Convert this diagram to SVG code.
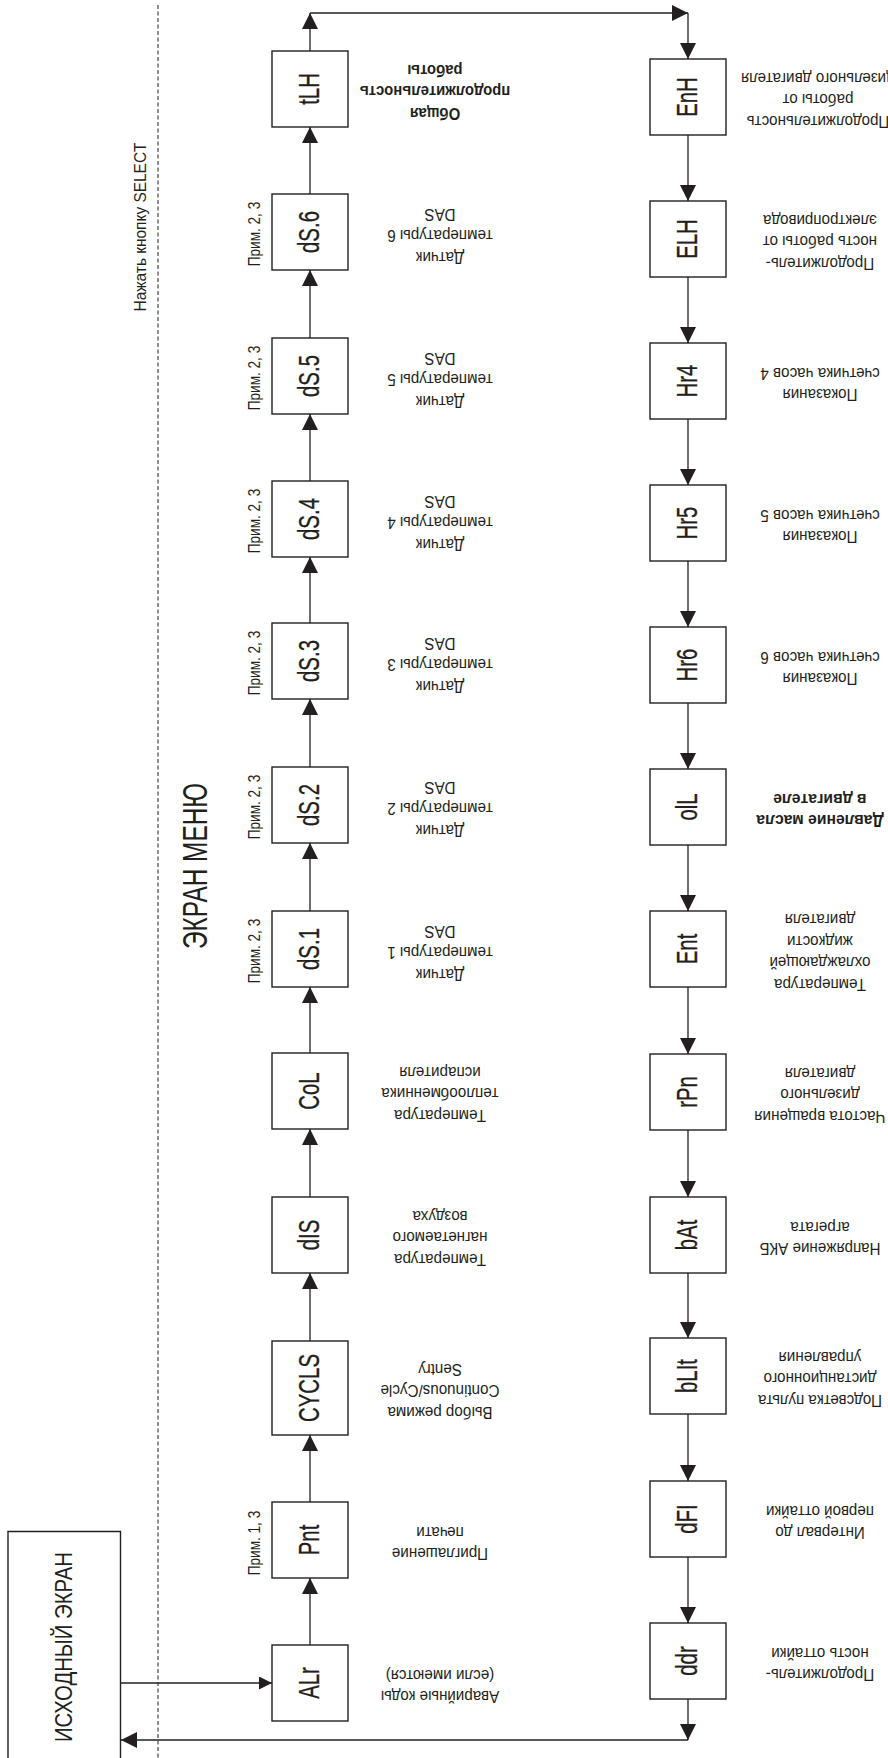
<svg xmlns="http://www.w3.org/2000/svg" width="888" height="1758" viewBox="0 0 888 1758">
<defs>
<marker id="ah" markerUnits="userSpaceOnUse" markerWidth="16" markerHeight="16" refX="16" refY="8" orient="auto" viewBox="0 0 16 16"><path d="M0,0 L16,8 L0,16 z" fill="#231f20"/></marker>
<marker id="as" markerUnits="userSpaceOnUse" markerWidth="13" markerHeight="13" refX="13" refY="6.5" orient="auto" viewBox="0 0 13 13"><path d="M0,0 L13,6.5 L0,13 z" fill="#231f20"/></marker>
</defs>
<style>
.box{fill:#fff;stroke:#231f20;stroke-width:1.4}
.ln{stroke:#231f20;stroke-width:1.3;fill:none;marker-end:url(#ah)}
.b{font-family:"Liberation Sans",Arial,sans-serif;font-size:30px;fill:#231f20;stroke:#231f20;stroke-width:0.3;text-anchor:middle}
.d{font-family:"Liberation Sans",Arial,sans-serif;font-size:16.5px;fill:#231f20;text-anchor:middle}
.db{font-family:"Liberation Sans",Arial,sans-serif;font-size:16.5px;font-weight:bold;fill:#231f20;text-anchor:middle}
.n{font-family:"Liberation Sans",Arial,sans-serif;font-size:16px;fill:#231f20;text-anchor:middle}
.t{font-family:"Liberation Sans",Arial,sans-serif;fill:#231f20;text-anchor:middle}
</style>

<line x1="158" y1="5" x2="158" y2="1758" stroke="#231f20" stroke-width="1" stroke-dasharray="4 2.5"/>
<text class="t" font-size="16.5" transform="translate(146,227) rotate(-90)" textLength="169" lengthAdjust="spacingAndGlyphs">Нажать кнопку SELECT</text>
<text class="t" font-size="35" transform="translate(207,866) rotate(-90)" textLength="166" lengthAdjust="spacingAndGlyphs">ЭКРАН МЕНЮ</text>

<g id="home">
<path d="M8,1758 V1531.5 H120.5 V1758" fill="#fff" stroke="#231f20" stroke-width="1.4"/>
<text class="t" font-size="24" transform="translate(72,1647) rotate(-90)" textLength="190" lengthAdjust="spacingAndGlyphs">ИСХОДНЫЙ ЭКРАН</text>
</g>

<g id="connectors">
<line class="ln" x1="310" y1="1645" x2="310" y2="1578"/>
<line class="ln" x1="310" y1="1502" x2="310" y2="1435"/>
<line class="ln" x1="310" y1="1341" x2="310" y2="1273"/>
<line class="ln" x1="310" y1="1197" x2="310" y2="1129"/>
<line class="ln" x1="310" y1="1053" x2="310" y2="987"/>
<line class="ln" x1="310" y1="911" x2="310" y2="843"/>
<line class="ln" x1="310" y1="767" x2="310" y2="699"/>
<line class="ln" x1="310" y1="623" x2="310" y2="557"/>
<line class="ln" x1="310" y1="481" x2="310" y2="414"/>
<line class="ln" x1="310" y1="338" x2="310" y2="270"/>
<line class="ln" x1="310" y1="194" x2="310" y2="127"/>
<line class="ln" x1="310" y1="51" x2="310" y2="13"/>
<line class="ln" x1="310" y1="13" x2="688" y2="13"/>
<line class="ln" x1="688" y1="13" x2="688" y2="59"/>
<line class="ln" x1="688" y1="135" x2="688" y2="201"/>
<line class="ln" x1="688" y1="277" x2="688" y2="343"/>
<line class="ln" x1="688" y1="419" x2="688" y2="485"/>
<line class="ln" x1="688" y1="561" x2="688" y2="627"/>
<line class="ln" x1="688" y1="703" x2="688" y2="769"/>
<line class="ln" x1="688" y1="845" x2="688" y2="911"/>
<line class="ln" x1="688" y1="987" x2="688" y2="1054"/>
<line class="ln" x1="688" y1="1130" x2="688" y2="1197"/>
<line class="ln" x1="688" y1="1273" x2="688" y2="1338"/>
<line class="ln" x1="688" y1="1414" x2="688" y2="1481"/>
<line class="ln" x1="688" y1="1557" x2="688" y2="1623"/>
<line class="ln" x1="688" y1="1699" x2="688" y2="1740"/>
<line class="ln" x1="688" y1="1740" x2="121" y2="1740"/>
<line x1="121" y1="1683" x2="272" y2="1683" stroke="#231f20" stroke-width="1.3" marker-end="url(#as)"/>
</g>

<!-- Left column -->
<g id="ALr"><rect class="box" x="272" y="1645" width="76" height="76"/>
<text class="b" transform="translate(318.5,1683) rotate(-90) scale(0.68,1)">ALr</text>
<g transform="translate(440,1686) rotate(180) scale(0.92,1)"><text class="d"><tspan x="0" y="-5.5">Аварийные коды</tspan><tspan x="0" y="16.5">(если имеются)</tspan></text></g></g>

<g id="Pnt"><rect class="box" x="272" y="1502" width="76" height="76"/>
<text class="b" transform="translate(318.5,1540) rotate(-90) scale(0.68,1)">Pnt</text>
<text class="n" transform="translate(260,1543) rotate(-90) scale(0.85,1)">Прим. 1, 3</text>
<g transform="translate(440,1543) rotate(180) scale(0.92,1)"><text class="d"><tspan x="0" y="-5.5">Приглашение</tspan><tspan x="0" y="16.5">печати</tspan></text></g></g>

<g id="CYCLS"><rect class="box" x="272" y="1341" width="76" height="94"/>
<text class="b" transform="translate(318.5,1388) rotate(-90) scale(0.68,1)">CYCLS</text>
<g transform="translate(440,1391) rotate(180) scale(0.92,1)"><text class="d"><tspan x="0" y="-16.5">Выбор режима</tspan><tspan x="0" y="5.5">Continuous/Cycle</tspan><tspan x="0" y="27.5">Sentry</tspan></text></g></g>

<g id="dIS"><rect class="box" x="272" y="1197" width="76" height="76"/>
<text class="b" transform="translate(318.5,1235) rotate(-90) scale(0.68,1)">dIS</text>
<g transform="translate(440,1238) rotate(180) scale(0.92,1)"><text class="d"><tspan x="0" y="-16.5">Температура</tspan><tspan x="0" y="5.5">нагнетаемого</tspan><tspan x="0" y="27.5">воздуха</tspan></text></g></g>

<g id="CoL"><rect class="box" x="272" y="1053" width="76" height="76"/>
<text class="b" transform="translate(318.5,1091) rotate(-90) scale(0.68,1)">CoL</text>
<g transform="translate(440,1094) rotate(180) scale(0.92,1)"><text class="d"><tspan x="0" y="-16.5">Температура</tspan><tspan x="0" y="5.5">теплообменника</tspan><tspan x="0" y="27.5">испарителя</tspan></text></g></g>

<g id="dS1"><rect class="box" x="272" y="911" width="76" height="76"/>
<text class="b" transform="translate(318.5,949) rotate(-90) scale(0.68,1)">dS.1</text>
<text class="n" transform="translate(260,951) rotate(-90) scale(0.85,1)">Прим. 2, 3</text>
<g transform="translate(440,953) rotate(180) scale(0.92,1)"><text class="d"><tspan x="0" y="-16.5">Датчик</tspan><tspan x="0" y="5.5">температуры 1</tspan><tspan x="0" y="27.5">DAS</tspan></text></g></g>

<g id="dS2"><rect class="box" x="272" y="767" width="76" height="76"/>
<text class="b" transform="translate(318.5,805) rotate(-90) scale(0.68,1)">dS.2</text>
<text class="n" transform="translate(260,807) rotate(-90) scale(0.85,1)">Прим. 2, 3</text>
<g transform="translate(440,809) rotate(180) scale(0.92,1)"><text class="d"><tspan x="0" y="-16.5">Датчик</tspan><tspan x="0" y="5.5">температуры 2</tspan><tspan x="0" y="27.5">DAS</tspan></text></g></g>

<g id="dS3"><rect class="box" x="272" y="623" width="76" height="76"/>
<text class="b" transform="translate(318.5,661) rotate(-90) scale(0.68,1)">dS.3</text>
<text class="n" transform="translate(260,663) rotate(-90) scale(0.85,1)">Прим. 2, 3</text>
<g transform="translate(440,665) rotate(180) scale(0.92,1)"><text class="d"><tspan x="0" y="-16.5">Датчик</tspan><tspan x="0" y="5.5">температуры 3</tspan><tspan x="0" y="27.5">DAS</tspan></text></g></g>

<g id="dS4"><rect class="box" x="272" y="481" width="76" height="76"/>
<text class="b" transform="translate(318.5,519) rotate(-90) scale(0.68,1)">dS.4</text>
<text class="n" transform="translate(260,521) rotate(-90) scale(0.85,1)">Прим. 2, 3</text>
<g transform="translate(440,523) rotate(180) scale(0.92,1)"><text class="d"><tspan x="0" y="-16.5">Датчик</tspan><tspan x="0" y="5.5">температуры 4</tspan><tspan x="0" y="27.5">DAS</tspan></text></g></g>

<g id="dS5"><rect class="box" x="272" y="338" width="76" height="76"/>
<text class="b" transform="translate(318.5,376) rotate(-90) scale(0.68,1)">dS.5</text>
<text class="n" transform="translate(260,378) rotate(-90) scale(0.85,1)">Прим. 2, 3</text>
<g transform="translate(440,380) rotate(180) scale(0.92,1)"><text class="d"><tspan x="0" y="-16.5">Датчик</tspan><tspan x="0" y="5.5">температуры 5</tspan><tspan x="0" y="27.5">DAS</tspan></text></g></g>

<g id="dS6"><rect class="box" x="272" y="194" width="76" height="76"/>
<text class="b" transform="translate(318.5,232) rotate(-90) scale(0.68,1)">dS.6</text>
<text class="n" transform="translate(260,234) rotate(-90) scale(0.85,1)">Прим. 2, 3</text>
<g transform="translate(440,236) rotate(180) scale(0.92,1)"><text class="d"><tspan x="0" y="-16.5">Датчик</tspan><tspan x="0" y="5.5">температуры 6</tspan><tspan x="0" y="27.5">DAS</tspan></text></g></g>

<g id="tLH"><rect class="box" x="272" y="51" width="76" height="76"/>
<text class="b" transform="translate(318.5,89) rotate(-90) scale(0.68,1)">tLH</text>
<g transform="translate(435,92) rotate(180) scale(0.9,1)"><text class="db"><tspan x="0" y="-16.5">Общая</tspan><tspan x="0" y="5.5">продолжительность</tspan><tspan x="0" y="27.5">работы</tspan></text></g></g>

<!-- Right column -->
<g id="EnH"><rect class="box" x="650" y="59" width="76" height="76"/>
<text class="b" transform="translate(696.5,97) rotate(-90) scale(0.68,1)">EnH</text>
<g transform="translate(818,100) rotate(180) scale(0.92,1)"><text class="d"><tspan x="0" y="-16.5">Продолжительность</tspan><tspan x="0" y="5.5">работы от</tspan><tspan x="0" y="27.5">дизельного двигателя</tspan></text></g></g>

<g id="ELH"><rect class="box" x="650" y="201" width="76" height="76"/>
<text class="b" transform="translate(696.5,239) rotate(-90) scale(0.68,1)">ELH</text>
<g transform="translate(820,242) rotate(180) scale(0.92,1)"><text class="d"><tspan x="0" y="-16.5">Продолжитель-</tspan><tspan x="0" y="5.5">ность работы от</tspan><tspan x="0" y="27.5">электропривода</tspan></text></g></g>

<g id="Hr4"><rect class="box" x="650" y="343" width="76" height="76"/>
<text class="b" transform="translate(696.5,381) rotate(-90) scale(0.68,1)">Hr4</text>
<g transform="translate(820,384) rotate(180) scale(0.92,1)"><text class="d"><tspan x="0" y="-5.5">Показания</tspan><tspan x="0" y="16.5">счетчика часов 4</tspan></text></g></g>

<g id="Hr5"><rect class="box" x="650" y="485" width="76" height="76"/>
<text class="b" transform="translate(696.5,523) rotate(-90) scale(0.68,1)">Hr5</text>
<g transform="translate(820,526) rotate(180) scale(0.92,1)"><text class="d"><tspan x="0" y="-5.5">Показания</tspan><tspan x="0" y="16.5">счетчика часов 5</tspan></text></g></g>

<g id="Hr6"><rect class="box" x="650" y="627" width="76" height="76"/>
<text class="b" transform="translate(696.5,665) rotate(-90) scale(0.68,1)">Hr6</text>
<g transform="translate(820,668) rotate(180) scale(0.92,1)"><text class="d"><tspan x="0" y="-5.5">Показания</tspan><tspan x="0" y="16.5">счетчика часов 6</tspan></text></g></g>

<g id="olL"><rect class="box" x="650" y="769" width="76" height="76"/>
<text class="b" transform="translate(696.5,807) rotate(-90) scale(0.68,1)">olL</text>
<g transform="translate(820,810) rotate(180) scale(0.95,1)"><text class="db"><tspan x="0" y="-5.5">Давление масла</tspan><tspan x="0" y="16.5">в двигателе</tspan></text></g></g>

<g id="Ent"><rect class="box" x="650" y="911" width="76" height="76"/>
<text class="b" transform="translate(696.5,949) rotate(-90) scale(0.68,1)">Ent</text>
<g transform="translate(820,952) rotate(180) scale(0.92,1)"><text class="d"><tspan x="0" y="-27.5">Температура</tspan><tspan x="0" y="-5.5">охлаждающей</tspan><tspan x="0" y="16.5">жидкости</tspan><tspan x="0" y="38.5">двигателя</tspan></text></g></g>

<g id="rPn"><rect class="box" x="650" y="1054" width="76" height="76"/>
<text class="b" transform="translate(696.5,1092) rotate(-90) scale(0.68,1)">rPn</text>
<g transform="translate(820,1095) rotate(180) scale(0.92,1)"><text class="d"><tspan x="0" y="-16.5">Частота вращения</tspan><tspan x="0" y="5.5">дизельного</tspan><tspan x="0" y="27.5">двигателя</tspan></text></g></g>

<g id="bAt"><rect class="box" x="650" y="1197" width="76" height="76"/>
<text class="b" transform="translate(696.5,1235) rotate(-90) scale(0.68,1)">bAt</text>
<g transform="translate(820,1238) rotate(180) scale(0.92,1)"><text class="d"><tspan x="0" y="-5.5">Напряжение АКБ</tspan><tspan x="0" y="16.5">агрегата</tspan></text></g></g>

<g id="bLIt"><rect class="box" x="650" y="1338" width="76" height="76"/>
<text class="b" transform="translate(696.5,1376) rotate(-90) scale(0.68,1)">bLIt</text>
<g transform="translate(820,1379) rotate(180) scale(0.92,1)"><text class="d"><tspan x="0" y="-16.5">Подсветка пульта</tspan><tspan x="0" y="5.5">дистанционного</tspan><tspan x="0" y="27.5">управления</tspan></text></g></g>

<g id="dFI"><rect class="box" x="650" y="1481" width="76" height="76"/>
<text class="b" transform="translate(696.5,1519) rotate(-90) scale(0.68,1)">dFI</text>
<g transform="translate(820,1522) rotate(180) scale(0.92,1)"><text class="d"><tspan x="0" y="-5.5">Интервал до</tspan><tspan x="0" y="16.5">первой оттайки</tspan></text></g></g>

<g id="ddr"><rect class="box" x="650" y="1623" width="76" height="76"/>
<text class="b" transform="translate(696.5,1661) rotate(-90) scale(0.68,1)">ddr</text>
<g transform="translate(820,1664) rotate(180) scale(0.92,1)"><text class="d"><tspan x="0" y="-5.5">Продолжитель-</tspan><tspan x="0" y="16.5">ность оттайки</tspan></text></g></g>
</svg>
